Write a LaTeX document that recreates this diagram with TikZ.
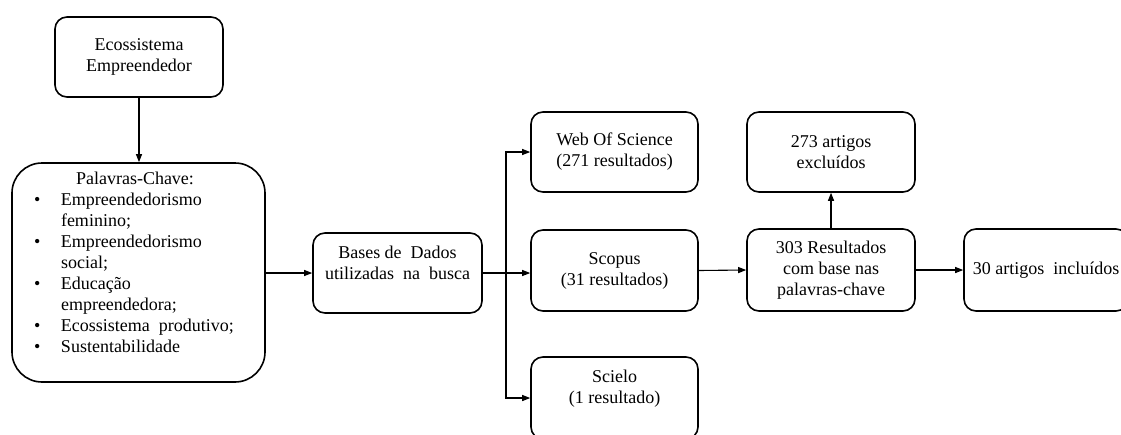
\documentclass[tikz,border=0pt]{standalone}
\usepackage{fontspec}
\setmainfont{Liberation Serif}
\usetikzlibrary{arrows.meta}
\begin{document}
\begin{tikzpicture}[x=1pt,y=-1pt,
  box/.style={draw=black, line width=1.6pt, rounded corners=12pt, align=center, inner sep=0pt},
  txt/.style={align=center, inner sep=0pt},
  arr/.style={line width=1.1pt, -{Triangle[length=8pt,width=6pt]}},
  every node/.style={font=\fontsize{18}{21}\selectfont}]
\useasboundingbox (0,0) rectangle (1121,434);
\clip (0,0) rectangle (1121,434);
\fill[white] (0,0) rectangle (1121,434);
% nodes
\node[box, minimum width=168pt, minimum height=80pt] (eco) at (139,57) {Ecossistema\\Empreendedor};
\node[box, minimum width=253pt, minimum height=219pt, rounded corners=30pt] (pal) at (138.5,272.5) {};
\node[txt, anchor=center] (paltxt) at (134,264.5) {%
  \renewcommand{\arraystretch}{1}%
  \begin{tabular}{@{}p{27pt}@{}l@{}}
  \multicolumn{2}{@{}c@{}}{\hspace*{2pt}Palavras-Chave:}\\
  \textbullet & Empreendedorismo\\
   & feminino;\\
  \textbullet & Empreendedorismo\\
   & social;\\
  \textbullet & Educação\\
   & empreendedora;\\
  \textbullet & Ecossistema\ \ produtivo;\\
  \textbullet & Sustentabilidade
  \end{tabular}};
\node[box, minimum width=169pt, minimum height=80pt] (bases) at (397.5,273) {};
\node[txt] (basestxt) at (397.5,263) {Bases de\ \ Dados\\utilizadas\ \ na\ \ busca};
\node[box, minimum width=167pt, minimum height=80pt] (wos) at (614.5,152) {Web Of Science\\(271 resultados)};
\node[box, minimum width=167pt, minimum height=81pt] (scopus) at (614.5,270.5) {Scopus\\(31 resultados)};
\node[box, minimum width=167pt, minimum height=82pt] (scielo) at (614.5,398) {};
\node[txt] (scielotxt) at (614.5,388.5) {Scielo\\(1 resultado)};
\node[box, minimum width=168pt, minimum height=80pt] (exc) at (831,152) {273 artigos\\excluídos};
\node[box, minimum width=168pt, minimum height=82pt] (res) at (831,270) {303 Resultados\\com base nas\\palavras-chave};
\node[box, minimum width=164pt, minimum height=82pt] (inc) at (1046,270) {30 artigos\ \ incluídos};
% connectors
\draw[arr] (eco.south) -- (pal.north -| eco.south);
\draw[arr] (pal.east |- bases.west) -- (bases.west);
\coordinate (j) at (506,273);
\draw[arr] (bases.east) -- (scopus.west |- bases.east);
\draw[arr] (j) |- (wos.west);
\draw[arr] (j) |- (scielo.west);
\draw[arr] (scopus.east) -- (res.west);
\draw[arr] (res.north) -- (exc.south);
\draw[arr] (res.east) -- (inc.west);
\end{tikzpicture}
\end{document}
